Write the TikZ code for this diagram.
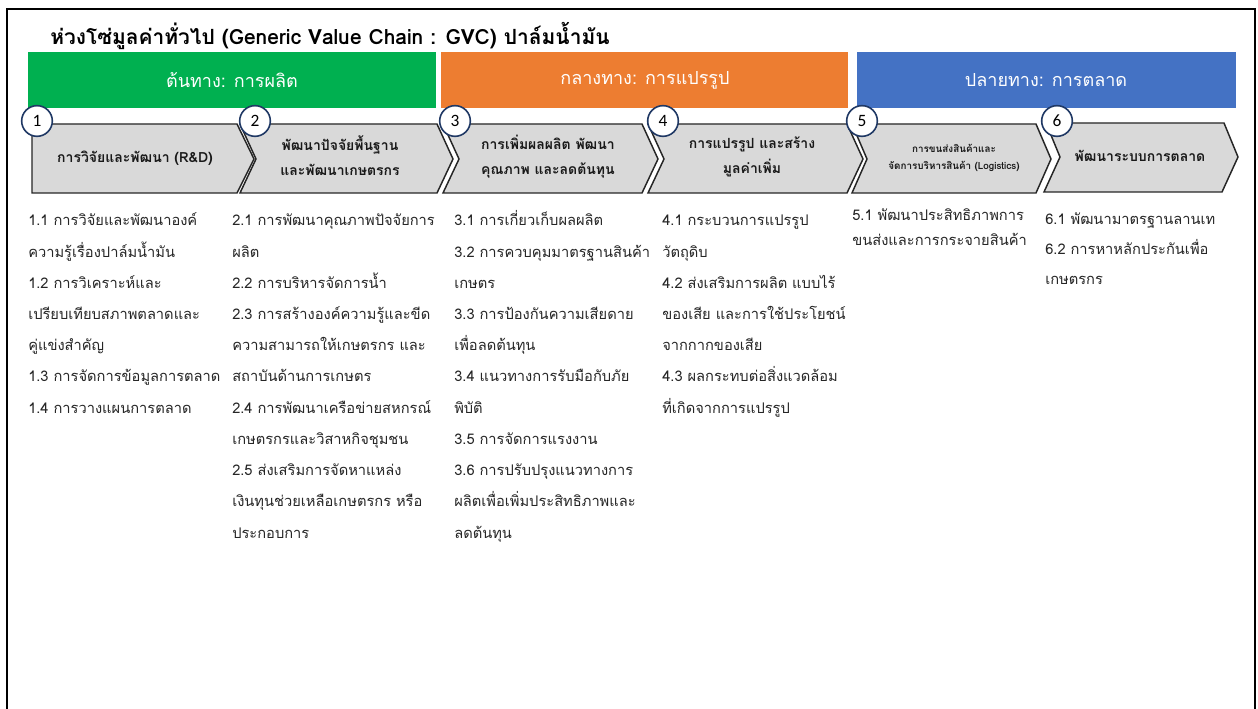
\documentclass[tikz,border=0pt]{standalone}
\usepackage{fontspec}
\setmainfont[Script=Thai]{Loma}
\newfontfamily\numfont{Carlito}
\definecolor{gvcgreen}{HTML}{00B050}
\definecolor{gvcorange}{HTML}{ED7D31}
\definecolor{gvcblue}{HTML}{4472C4}
\definecolor{chevfill}{HTML}{D9D9D9}
\definecolor{circnavy}{HTML}{1F3864}
\definecolor{bodytext}{HTML}{262626}
\tikzset{
  hdrtext/.style={text=white, font=\fontsize{13.5}{16}\selectfont},
  chev/.style={fill=chevfill, draw=black!85, line width=1.1pt, line join=miter},
  chevtext/.style={font=\bfseries\fontsize{10.5}{18.75}\selectfont, align=center, text=black!90, inner sep=0pt},
  numcirc/.style={circle, draw=circnavy, fill=white, line width=1.2pt, minimum size=23pt, inner sep=0pt, font=\numfont\fontsize{13}{14}\selectfont},
  bodyline/.style={anchor=base west, inner sep=0pt, text=bodytext, font=\fontsize{11}{14}\selectfont},
}
\begin{document}
\begin{tikzpicture}[x=0.75pt,y=-0.75pt]
\useasboundingbox[fill=white] (0,0) rectangle (1258,709);
% frame
\draw[line width=1.6pt] (7,709) -- (7,9) -- (1255,9) -- (1255,709);
% title
\node[anchor=base west, inner sep=0pt, font=\bfseries\fontsize{15.7}{18}\selectfont] (title) at (50,45) {ห่วงโซ่มูลค่าทั่วไป (Generic Value Chain : GVC) ปาล์มน้ำมัน};
% header bars
\fill[gvcgreen] (28,52) rectangle (436,108);
\fill[gvcorange] (441,52) rectangle (848,108);
\fill[gvcblue] (857,52) rectangle (1236,108);
\node[hdrtext] (h1) at (232,80) {ต้นทาง: การผลิต};
\node[hdrtext] (h2) at (645,80) {กลางทาง: การแปรรูป};
\node[hdrtext] (h3) at (1046,80) {ปลายทาง: การตลาด};
% chevrons
\draw[chev] (32,124) -- (237,124) -- (254,159) -- (237,193) -- (32,193) -- cycle;
\draw[chev] (240,124) -- (437,124) -- (453,159) -- (437,193) -- (240,193) -- (256,159) -- cycle;
\draw[chev] (443,124) -- (642,124) -- (658,159) -- (642,193) -- (443,193) -- (459,159) -- cycle;
\draw[chev] (648,124) -- (847,124) -- (863,159) -- (847,193) -- (648,193) -- (664,159) -- cycle;
\draw[chev] (852,124) -- (1036,124) -- (1051,159) -- (1036,193) -- (852,193) -- (867,159) -- cycle;
\draw[chev] (1046,123) -- (1224,123) -- (1238,157) -- (1222,192) -- (1044,192) -- (1060,157) -- cycle;
\node[chevtext] (t1) at (135,158) {การวิจัยและพัฒนา (R\&D)};
\node[chevtext] (t2) at (340,156) {พัฒนาปัจจัยพื้นฐาน\\และพัฒนาเกษตรกร};
\node[chevtext] (t3) at (548,157) {การเพิ่มผลผลิต พัฒนา\\คุณภาพ และลดต้นทุน};
\node[chevtext] (t4) at (752,157) {การแปรรูป และสร้าง\\มูลค่าเพิ่ม};
\node[chevtext, font=\bfseries\fontsize{7.4}{13}\selectfont] (t5) at (954,158) {การขนส่งสินค้าและ\\จัดการบริหารสินค้า (Logistics)};
\node[chevtext] (t6) at (1140,156) {พัฒนาระบบการตลาด};
% number circles
\node[numcirc] (n1) at (37,121) {1};
\node[numcirc] (n2) at (255,121) {2};
\node[numcirc] (n3) at (455,121) {3};
\node[numcirc] (n4) at (663,121) {4};
\node[numcirc] (n5) at (862,121) {5};
\node[numcirc] (n6) at (1057,121) {6};
% body columns
\foreach \t [count=\i] in {1.1 การวิจัยและพัฒนาองค์, ความรู้เรื่องปาล์มน้ำมัน, 1.2 การวิเคราะห์และ, เปรียบเทียบสภาพตลาดและ, คู่แข่งสำคัญ, 1.3 การจัดการข้อมูลการตลาด, 1.4 การวางแผนการตลาด}
  \node[bodyline] (ca\i) at (28,{226+31.2*(\i-1)}) {\t};
\foreach \t [count=\i] in {2.1 การพัฒนาคุณภาพปัจจัยการ, ผลิต, 2.2 การบริหารจัดการน้ำ, 2.3 การสร้างองค์ความรู้และขีด, ความสามารถให้เกษตรกร และ, สถาบันด้านการเกษตร, 2.4 การพัฒนาเครือข่ายสหกรณ์, เกษตรกรและวิสาหกิจชุมชน, 2.5 ส่งเสริมการจัดหาแหล่ง, เงินทุนช่วยเหลือเกษตรกร หรือ, ประกอบการ}
  \node[bodyline] (cb\i) at (232,{226+31.2*(\i-1)}) {\t};
\foreach \t [count=\i] in {3.1 การเกี่ยวเก็บผลผลิต, 3.2 การควบคุมมาตรฐานสินค้า, เกษตร, 3.3 การป้องกันความเสียดาย, เพื่อลดต้นทุน, 3.4 แนวทางการรับมือกับภัย, พิบัติ, 3.5 การจัดการแรงงาน, 3.6 การปรับปรุงแนวทางการ, ผลิตเพื่อเพิ่มประสิทธิภาพและ, ลดต้นทุน}
  \node[bodyline] (cc\i) at (454,{226+31.2*(\i-1)}) {\t};
\foreach \t [count=\i] in {4.1 กระบวนการแปรรูป, วัตถุดิบ, 4.2 ส่งเสริมการผลิต แบบไร้, ของเสีย และการใช้ประโยชน์, จากกากของเสีย, 4.3 ผลกระทบต่อสิ่งแวดล้อม, ที่เกิดจากการแปรรูป}
  \node[bodyline] (cd\i) at (662,{226+31.2*(\i-1)}) {\t};
\foreach \t [count=\i] in {5.1 พัฒนาประสิทธิภาพการ, ขนส่งและการกระจายสินค้า}
  \node[bodyline] (ce\i) at (852,{221+25*(\i-1)}) {\t};
\foreach \t [count=\i] in {6.1 พัฒนามาตรฐานลานเท, 6.2 การหาหลักประกันเพื่อ, เกษตรกร}
  \node[bodyline] (cf\i) at (1045,{225+30*(\i-1)}) {\t};
\end{tikzpicture}
\end{document}
